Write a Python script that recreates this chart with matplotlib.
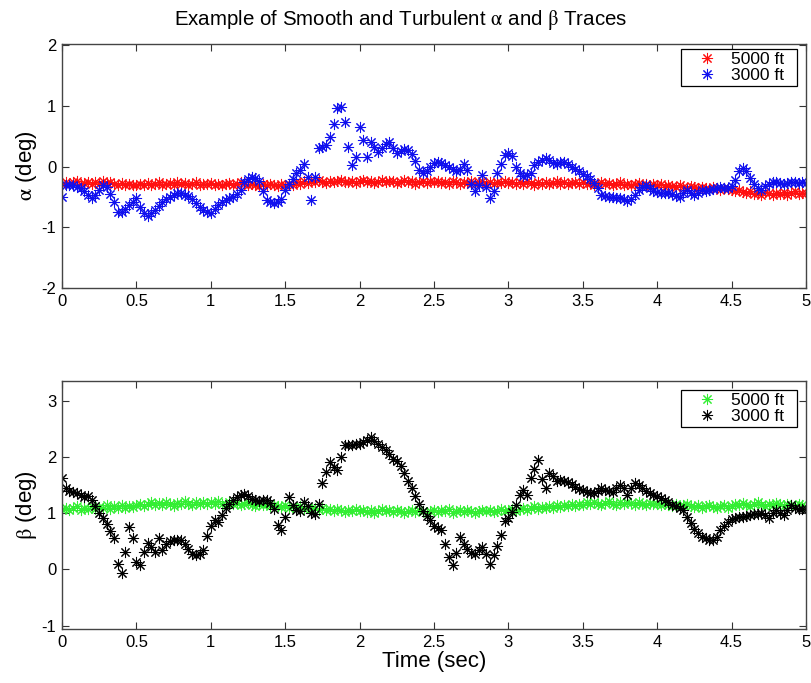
import numpy as np
import matplotlib
matplotlib.use("Agg")
import matplotlib.pyplot as plt
from matplotlib.lines import Line2D

plt.rcParams['font.family'] = ['Liberation Sans', 'DejaVu Sans']
plt.rcParams['mathtext.fontset'] = 'stix'

# ---------------- data ----------------
title = r"Example of Smooth and Turbulent $\mathrm{\alpha}$ and $\mathrm{\beta}$ Traces"
series_names = ["5000 ft", "3000 ft"]
xticks = [0, 0.5, 1, 1.5, 2, 2.5, 3, 3.5, 4, 4.5, 5]
xtick_labels = ["0", "0.5", "1", "1.5", "2", "2.5", "3", "3.5", "4", "4.5", "5"]
alpha_yticks = [-2, -1, 0, 1, 2]
beta_yticks = [-1, 0, 1, 2, 3]

# alpha, 5000 ft (smooth), sampled every 0.025 s
alpha_5000 = [
    -0.28, -0.25, -0.29, -0.26, -0.24, -0.28, -0.27, -0.25, -0.29, -0.26, -0.28, -0.24, -0.27, -0.25, -0.29, -0.30, -0.27, -0.31, -0.28, -0.30,
    -0.31, -0.28, -0.30, -0.27, -0.31, -0.29, -0.26, -0.30, -0.28, -0.27, -0.30, -0.25, -0.29, -0.27, -0.31, -0.28, -0.26, -0.30, -0.28, -0.29,
    -0.27, -0.30, -0.28, -0.31, -0.29, -0.27, -0.30, -0.28, -0.26, -0.29, -0.31, -0.28, -0.30, -0.32, -0.29, -0.31, -0.28, -0.30, -0.32, -0.29,
    -0.31, -0.28, -0.30, -0.26, -0.29, -0.24, -0.27, -0.23, -0.26, -0.22, -0.25, -0.27, -0.23, -0.26, -0.24, -0.22, -0.26, -0.25, -0.23, -0.27,
    -0.24, -0.22, -0.26, -0.23, -0.27, -0.25, -0.22, -0.26, -0.24, -0.23, -0.27, -0.25, -0.22, -0.26, -0.24, -0.28, -0.25, -0.23, -0.27, -0.24,
    -0.26, -0.23, -0.27, -0.25, -0.28, -0.24, -0.26, -0.29, -0.25, -0.27, -0.23, -0.28, -0.26, -0.24, -0.29, -0.26, -0.28, -0.25, -0.27, -0.24,
    -0.27, -0.25, -0.29, -0.26, -0.28, -0.24, -0.27, -0.30, -0.26, -0.28, -0.25, -0.29, -0.27, -0.24, -0.28, -0.26, -0.29, -0.27, -0.25, -0.28,
    -0.26, -0.29, -0.27, -0.30, -0.28, -0.25, -0.29, -0.27, -0.31, -0.28, -0.26, -0.30, -0.28, -0.31, -0.29, -0.27, -0.30, -0.28, -0.32, -0.29,
    -0.31, -0.29, -0.33, -0.30, -0.32, -0.34, -0.31, -0.33, -0.35, -0.32, -0.34, -0.36, -0.33, -0.35, -0.37, -0.34, -0.36, -0.38, -0.35, -0.37,
    -0.39, -0.41, -0.38, -0.42, -0.44, -0.41, -0.45, -0.43, -0.46, -0.42, -0.44, -0.47, -0.43, -0.45, -0.42, -0.46, -0.44, -0.41, -0.45, -0.43,
    -0.44,
]

# alpha, 3000 ft (turbulent), sampled every 0.025 s
alpha_3000 = [
    -0.50, -0.30, -0.30, -0.31, -0.33, -0.35, -0.40, -0.46, -0.52, -0.46, -0.38, -0.31, -0.33, -0.45, -0.58, -0.74, -0.74, -0.70, -0.64, -0.58,
    -0.52, -0.66, -0.76, -0.81, -0.77, -0.71, -0.65, -0.59, -0.54, -0.50, -0.47, -0.44, -0.44, -0.46, -0.49, -0.54, -0.60, -0.66, -0.71, -0.75,
    -0.77, -0.70, -0.64, -0.59, -0.55, -0.52, -0.50, -0.45, -0.39, -0.25, -0.20, -0.17, -0.18, -0.24, -0.41, -0.55, -0.58, -0.60, -0.58, -0.53,
    -0.38, -0.28, -0.20, -0.11, -0.05, 0.04, -0.17, -0.55, -0.17, 0.30, 0.33, 0.35, 0.49, 0.71, 0.96, 0.99, 0.74, 0.33, 0.03, 0.16,
    0.65, 0.44, 0.16, 0.41, 0.33, 0.24, 0.30, 0.38, 0.41, 0.30, 0.22, 0.25, 0.29, 0.28, 0.20, 0.10, -0.05, -0.11, -0.07, 0.00,
    0.06, 0.08, 0.06, 0.03, 0.00, -0.04, -0.08, -0.05, 0.04, -0.05, -0.28, -0.41, -0.30, -0.14, -0.33, -0.52, -0.40, -0.10, 0.05, 0.19,
    0.23, 0.18, 0.00, -0.10, -0.16, -0.14, -0.10, 0.02, 0.08, 0.11, 0.14, 0.11, 0.06, 0.05, 0.07, 0.08, 0.04, 0.00, -0.04, -0.08,
    -0.12, -0.16, -0.20, -0.27, -0.35, -0.47, -0.49, -0.50, -0.50, -0.51, -0.52, -0.54, -0.57, -0.54, -0.47, -0.38, -0.33, -0.31, -0.35, -0.40,
    -0.42, -0.44, -0.44, -0.43, -0.45, -0.48, -0.50, -0.44, -0.39, -0.44, -0.47, -0.43, -0.39, -0.40, -0.39, -0.37, -0.35, -0.33, -0.36, -0.36,
    -0.32, -0.22, -0.08, -0.03, -0.08, -0.18, -0.28, -0.35, -0.39, -0.32, -0.28, -0.26, -0.25, -0.27, -0.28, -0.27, -0.26, -0.25, -0.27, -0.26,
    -0.27,
]

# beta, 5000 ft (smooth)
beta_5000 = [
    1.07, 1.10, 1.05, 1.09, 1.12, 1.06, 1.10, 1.08, 1.13, 1.07, 1.11, 1.09, 1.14, 1.08, 1.12, 1.10, 1.15, 1.09, 1.13, 1.11,
    1.14, 1.17, 1.12, 1.16, 1.19, 1.14, 1.18, 1.15, 1.20, 1.16, 1.13, 1.18, 1.16, 1.21, 1.17, 1.14, 1.19, 1.16, 1.20, 1.17,
    1.19, 1.16, 1.21, 1.17, 1.15, 1.19, 1.16, 1.18, 1.14, 1.17, 1.20, 1.15, 1.13, 1.17, 1.14, 1.16, 1.12, 1.15, 1.13, 1.11,
    1.14, 1.10, 1.13, 1.09, 1.12, 1.08, 1.11, 1.07, 1.10, 1.06, 1.09, 1.05, 1.08, 1.04, 1.07, 1.05, 1.02, 1.06, 1.04, 1.07,
    1.03, 1.06, 1.02, 1.05, 1.01, 1.04, 1.07, 1.03, 1.05, 1.02, 1.06, 1.03, 1.00, 1.04, 1.06, 1.02, 1.05, 1.03, 1.01, 1.04,
    1.06, 1.02, 1.05, 1.03, 1.07, 1.01, 1.04, 1.06, 1.02, 1.05, 1.03, 1.00, 1.04, 1.06, 1.03, 1.05, 1.02, 1.04, 1.07, 1.03,
    1.05, 1.08, 1.04, 1.07, 1.10, 1.06, 1.09, 1.12, 1.08, 1.11, 1.09, 1.13, 1.10, 1.14, 1.11, 1.15, 1.12, 1.16, 1.13, 1.17,
    1.15, 1.19, 1.16, 1.20, 1.17, 1.14, 1.18, 1.21, 1.17, 1.15, 1.19, 1.16, 1.20, 1.18, 1.15, 1.19, 1.17, 1.14, 1.18, 1.16,
    1.17, 1.14, 1.18, 1.15, 1.13, 1.16, 1.12, 1.15, 1.17, 1.13, 1.11, 1.14, 1.10, 1.13, 1.15, 1.11, 1.09, 1.12, 1.14, 1.10,
    1.13, 1.17, 1.14, 1.18, 1.15, 1.12, 1.16, 1.19, 1.15, 1.13, 1.17, 1.14, 1.18, 1.16, 1.13, 1.17, 1.15, 1.12, 1.16, 1.14,
    1.11,
]

# beta, 3000 ft (turbulent)
beta_3000 = [
    1.62, 1.45, 1.40, 1.38, 1.36, 1.32, 1.29, 1.31, 1.23, 1.13, 1.01, 0.92, 0.80, 0.68, 0.55, 0.10, -0.07, 0.31, 0.76, 0.55,
    0.13, 0.08, 0.31, 0.47, 0.40, 0.31, 0.55, 0.34, 0.46, 0.50, 0.52, 0.52, 0.52, 0.45, 0.37, 0.28, 0.25, 0.27, 0.35, 0.60,
    0.78, 0.88, 0.84, 0.96, 1.09, 1.17, 1.23, 1.29, 1.32, 1.34, 1.31, 1.26, 1.24, 1.22, 1.23, 1.23, 1.18, 1.08, 0.79, 0.70,
    0.94, 1.29, 1.14, 1.05, 1.03, 1.20, 1.12, 1.00, 0.99, 1.17, 1.53, 1.73, 1.91, 1.82, 1.76, 2.00, 2.21, 2.22, 2.21, 2.23,
    2.23, 2.26, 2.30, 2.35, 2.28, 2.23, 2.17, 2.12, 2.05, 1.96, 1.93, 1.84, 1.72, 1.58, 1.44, 1.30, 1.17, 1.04, 0.95, 0.88,
    0.78, 0.73, 0.70, 0.46, 0.22, 0.07, 0.30, 0.58, 0.45, 0.36, 0.30, 0.28, 0.35, 0.40, 0.27, 0.10, 0.25, 0.42, 0.62, 0.86,
    0.92, 1.02, 1.15, 1.32, 1.41, 1.32, 1.62, 1.78, 1.94, 1.60, 1.44, 1.72, 1.66, 1.58, 1.59, 1.57, 1.56, 1.52, 1.47, 1.43,
    1.41, 1.38, 1.35, 1.36, 1.40, 1.44, 1.42, 1.40, 1.38, 1.44, 1.50, 1.45, 1.32, 1.45, 1.53, 1.50, 1.45, 1.40, 1.35, 1.32,
    1.30, 1.27, 1.24, 1.20, 1.15, 1.12, 1.09, 1.05, 0.93, 0.82, 0.72, 0.64, 0.58, 0.55, 0.53, 0.52, 0.58, 0.70, 0.78, 0.85,
    0.89, 0.91, 0.93, 0.94, 0.95, 0.97, 0.98, 0.99, 1.00, 0.96, 0.91, 1.00, 1.05, 1.01, 0.97, 1.05, 1.14, 1.10, 1.08, 1.07,
    1.08,
]

t_end = 5.0
time = np.linspace(0, t_end, len(alpha_5000))

# ---------------- figure ----------------
W, H = 812, 683
fig = plt.figure(figsize=(W / 100, H / 100), dpi=100)
ax1 = fig.add_axes([62 / W, 1 - 288 / H, 744 / W, 244 / H])
ax2 = fig.add_axes([62 / W, 1 - 629 / H, 744 / W, 248 / H])

RED, BLUE, GREEN, BLACK = '#ff1010', '#1010ee', '#33ee33', 'black'
ast = (8, 2, 0)  # 8-spoke asterisk like MATLAB '*'
mk = dict(linestyle='none', marker=ast, markersize=8, markeredgewidth=0.75)

ax1.plot(time, alpha_5000, color=RED, **mk)
ax1.plot(time, alpha_3000, color=BLUE, **mk)
ax2.plot(time, beta_5000, color=GREEN, **mk)
ax2.plot(time, beta_3000, color=BLACK, **mk)

for ax, yt in ((ax1, alpha_yticks), (ax2, beta_yticks)):
    ax.set_xlim(0, t_end)
    ax.set_xticks(xticks)
    ax.set_xticklabels(xtick_labels)
    ax.set_yticks(yt)
    ax.set_yticklabels([str(v) for v in yt])
    ax.tick_params(direction='in', top=True, right=True, length=5, width=0.8,
                   labelsize=12, colors='#333333', labelcolor='black', pad=4)
    for s in ax.spines.values():
        s.set_color('#444444')
        s.set_linewidth(1.0)

ax1.set_ylim(-2.0, 2.02)
ax2.set_ylim(-1.06, 3.35)

ax1.set_ylabel(r"$\mathrm{\alpha}$ (deg)", fontsize=16, labelpad=2)
ax2.set_ylabel(r"$\mathrm{\beta}$ (deg)", fontsize=16, labelpad=2)
ax2.set_xlabel("Time (sec)", fontsize=16, labelpad=1)

fig.text(401 / W, 1 - 20 / H, title, fontsize=14.8, ha='center', va='center')


def legend(ax, colors, top):
    handles = [Line2D([], [], color=c, **mk) for c in colors]
    x0 = (681 - 62) / 744
    w = 116 / 744
    lg = ax.legend(handles, series_names, loc='upper left', mode='expand',
                   bbox_to_anchor=(x0, 0.5, w, top - 0.5), borderaxespad=0,
                   fontsize=12.5, frameon=True, fancybox=False, framealpha=1,
                   edgecolor='black', handlelength=2.64, handletextpad=0.06,
                   borderpad=0.17, labelspacing=0.03, numpoints=1)
    lg.get_frame().set_linewidth(0.9)
    return lg


legend(ax1, [RED, BLUE], 1 - (49 - 44) / 244)
legend(ax2, [GREEN, BLACK], 1 - (390 - 381) / 248)

fig.savefig("out.png", dpi=100)
